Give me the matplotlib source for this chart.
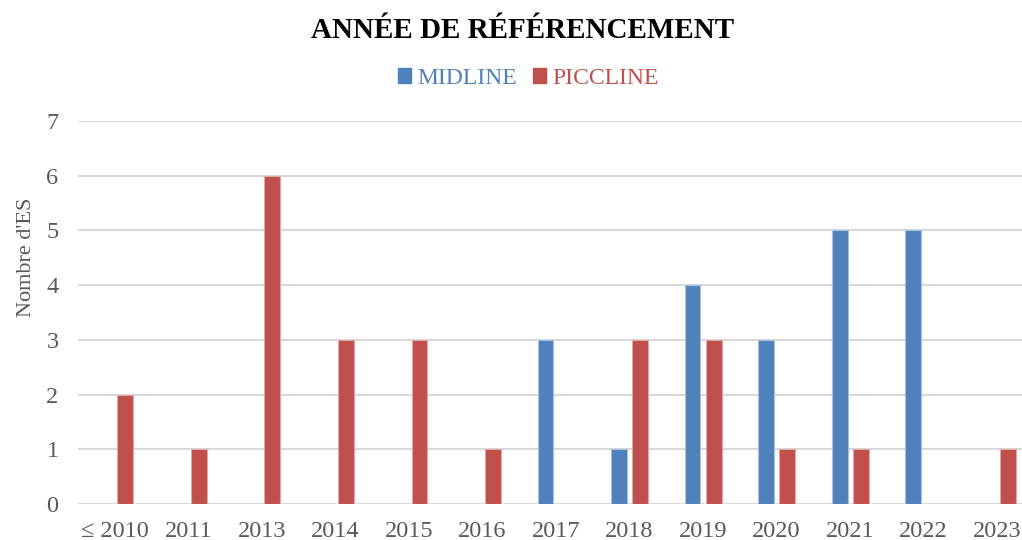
import numpy as np
import matplotlib.pyplot as plt
from matplotlib.patches import Patch

plt.rcParams['font.family'] = ['Liberation Serif', 'DejaVu Serif']

categories = ['≤ 2010', '2011', '2013', '2014', '2015', '2016', '2017',
              '2018', '2019', '2020', '2021', '2022', '2023']
midline = [0, 0, 0, 0, 0, 0, 3, 1, 4, 3, 5, 5, 0]
piccline = [2, 1, 6, 3, 3, 1, 0, 3, 3, 1, 1, 0, 1]

blue = '#4f81bd'
red = '#c0504d'

fig = plt.figure(figsize=(10.22, 5.40), dpi=100)
ax = fig.add_axes([78/1022, 36/540, 1 - 78/1022, (504-121)/540])

x = np.arange(len(categories))
w = 0.215
off = 0.143
ax.bar(x - off, midline, w, color=blue, edgecolor='#a7c0de', linewidth=0.8, zorder=3)
ax.bar(x + off, piccline, w, color=red, edgecolor='#e0a8a6', linewidth=0.8, zorder=3)

ax.set_ylim(0, 7)
ax.set_xlim(-0.5, 12.5 - 12/73.5)
ax.set_yticks(range(8))
ax.set_xticks(x)
ax.set_xticklabels(categories)
ax.tick_params(axis='both', length=0, labelsize=17.5, labelcolor='#595959')
ax.tick_params(axis='y', pad=14)
ax.tick_params(axis='x', pad=12)
ax.grid(axis='y', color='#d9d9d9', linewidth=1.5, zorder=0)
for s in ax.spines.values():
    s.set_visible(False)
ax.set_ylabel("Nombre d'ES", fontsize=16, color='#595959')
ax.yaxis.set_label_coords(-0.045, 0.645)

fig.text(0.511, 0.944, 'ANNÉE DE RÉFÉRENCEMENT', fontsize=21, fontweight='bold',
         ha='center', va='center')

handles = [Patch(color=blue), Patch(color=red)]
leg = fig.legend(handles, ['MIDLINE', 'PICCLINE'], loc='center', bbox_to_anchor=(0.517, 0.855),
                 ncol=2, frameon=False, fontsize=17, handlelength=0.55, handleheight=0.55,
                 handletextpad=0.25, columnspacing=0.7)
for t, c in zip(leg.get_texts(), [blue, red]):
    t.set_color(c)

fig.savefig('out.png', dpi=100)
